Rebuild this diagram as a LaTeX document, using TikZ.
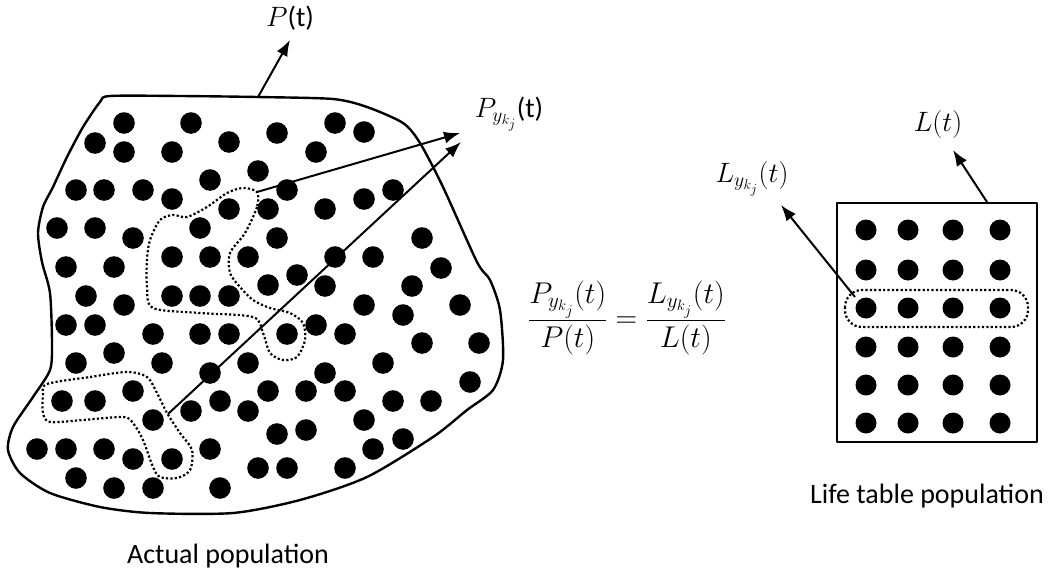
\RequirePackage{fix-cm}
\documentclass[tikz,border=0pt]{standalone}
\usepackage{fontspec}
\setmainfont{Carlito}
\usetikzlibrary{arrows.meta}
\newcommand{\mathsz}{\fontsize{28}{34}\selectfont}
\tikzset{
  arr/.style={line width=2pt,-{Latex[length=16pt,width=12pt]}},
  outline/.style={line width=2.4pt,line join=round},
  group/.style={line width=2.2pt,dash pattern=on 2.2pt off 2.2pt},
  lbl/.style={font=\fontsize{28}{32}\selectfont,inner sep=0pt,anchor=base},
  mlbl/.style={font=\mathsz,inner sep=0pt,anchor=base}
}
\begin{document}
\begin{tikzpicture}[x=1pt,y=-1pt]
	\useasboundingbox (0,0) rectangle (1053,573);
	% actual population
	\draw[outline] plot[smooth cycle,tension=0.45] coordinates {
		(110,96) (180,96) (257,97) (333,99) (367,107) (403,123) (420,143)
		(443,187) (477,262) (490,280) (500,310) (503,360) (493,390)
		(467,410) (433,437) (367,477) (300,500) (233,513) (150,513)
		(100,507) (50,493) (20,473) (8,450) (13,427) (33,397) (50,370)
		(52,343) (50,293) (42,262) (38,233) (43,207) (53,187) (67,157)
		(83,127) (100,102)};
	\foreach \p in {(124,123),(191,123),(335,123),(364,132),(95,143),(124,152),
		(172,152),(229,142),(277,133),(316,152),(258,171),(210,180),(76,190),
		(104,190),(143,190),(172,199),(287,190),(393,190),(364,199),(325,209),
		(229,209),(268,209),(57,228),(95,228),(133,238),(200,228),(277,238),
		(422,238),(172,257),(210,257),(248,257),(335,257),(373,257),
		(66,267),(114,267),(441,268),(297,275),(268,285),(325,286),(412,286),
		(86,296),(124,305),(172,296),(200,296),(229,296),(364,305),(460,305),
		(403,315),(66,325),(95,325),(153,334),(200,334),(229,334),(287,334),
		(316,325),(345,334),(422,343),(479,343),(114,353),(76,363),(162,363),
		(210,373),(248,363),(383,363),(325,373),(470,382),(133,391),(268,391),
		(306,391),(345,391),(62,401),(95,401),(220,401),(191,411),(248,411),
		(393,401),(431,401),(153,420),(364,420),(277,434),(306,430),(403,439),
		(37,449),(66,449),(104,449),(133,459),(172,459),(210,449),(373,449),
		(258,468),(287,468),(345,468),(76,478),(114,488),(153,488),(220,488)}
		\fill \p circle (10.8);
	% subgroups
	\draw[group] plot[smooth cycle,tension=0.5] coordinates {
		(257,192) (257,207) (245,233) (230,253) (230,273) (240,287) (253,300)
		(270,308) (290,313) (303,323) (305,340) (297,357) (283,360) (270,353)
		(263,333) (253,317) (200,313) (153,308) (147,287) (147,260) (150,240)
		(160,220) (173,215) (187,217) (207,207) (227,193) (243,188)};
	\draw[group] plot[smooth cycle,tension=0.5] coordinates {
		(47,384) (90,377) (127,372) (147,377) (157,393) (167,413) (180,433)
		(192,450) (190,470) (177,478) (160,477) (153,467) (143,440) (133,423)
		(123,417) (83,420) (50,422) (43,413) (43,395)};
	\node[lbl] (Pt) at (290,26) {{\mathsz$P$}(t)};
	\node[lbl] (Pyt) at (509,117) {{\mathsz$P_{y_{k_j}}$}(t)};
	\coordinate (ptop) at (258,97);
	\coordinate (ptip) at (290,40);
	\coordinate (g1) at (257,192);
	\coordinate (g1tip) at (460,133);
	\coordinate (g2) at (168,414);
	\coordinate (g2tip) at (461,142);
	\draw[arr] (ptop) -- (ptip);
	\draw[arr] (g1) -- (g1tip);
	\draw[arr] (g2) -- (g2tip);
	% ratio
	\node[mlbl,font=\fontsize{30}{36}\selectfont,anchor=center] (ratio) at (627,318)
		{$\displaystyle\frac{P_{y_{k_j}}(t)}{P(t)}=\frac{L_{y_{k_j}}(t)}{L(t)}$};
	% life table population
	\draw[outline] (837,203) rectangle (1037,442);
	\foreach \x in {866,908,953,1000}
		\foreach \y in {230,270,308,347,385,423}
			\fill (\x,\y) circle (10.5);
	\draw[group,rounded corners=17pt] (845,290) rectangle (1028,327);
	\node[mlbl] (Lt) at (938,131) {$L(t)$};
	\node[mlbl] (Lyt) at (752,182) {$L_{y_{k_j}}(t)$};
	\coordinate (ltop) at (987,202);
	\coordinate (ltip) at (953,150);
	\coordinate (row) at (855,297);
	\coordinate (rowtip) at (781,205);
	\draw[arr] (ltop) -- (ltip);
	\draw[arr] (row) -- (rowtip);
	\node[lbl] (actual) at (228,563) {Actual population};
	\node[lbl] (life) at (927,503) {Life table population};
\end{tikzpicture}
\end{document}
